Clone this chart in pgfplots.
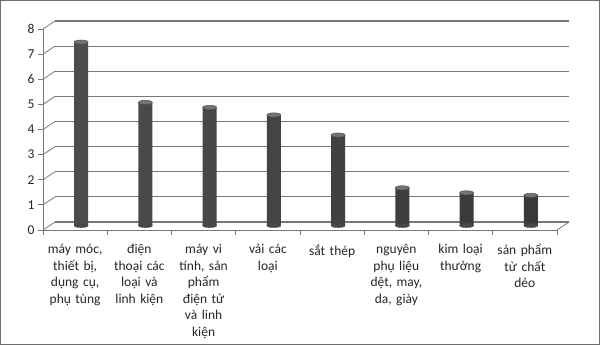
\documentclass[border=0pt]{standalone}
\usepackage{pgfplots}
\pgfplotsset{compat=1.18}
\usepackage{fontspec}
\setmainfont{Carlito}
\definecolor{gridc}{RGB}{120,120,120}
\definecolor{framec}{RGB}{110,110,110}
\begin{document}
\begin{tikzpicture}
\useasboundingbox (0,0) rectangle (600pt,345pt);
\fill[white] (0,0) rectangle (600pt,345pt);
\draw[framec, line width=1.4pt] (0.7pt,0.7pt) rectangle (599.3pt,344.3pt);
% front axis with back-wall grid
\begin{axis}[
  at={(43pt,115pt)}, anchor=south west,
  width=514pt, height=201pt, scale only axis,
  xmin=-0.5, xmax=7.5, ymin=0, ymax=8,
  axis x line*=bottom, axis y line*=left,
  axis line style={gridc, line width=0.8pt, -},
  clip=false,
  ytick={0,1,...,8},
  xtick={0,1,...,7},
  major x tick style={draw=none},
  minor xtick={-0.5,0.5,...,7.5},
  minor tick length=5pt,
  major tick length=5pt,
  tick align=outside,
  tick style={gridc, line width=0.8pt},
  /pgf/number format/assume math mode=true,
  tick label style={font=\fontsize{13.5}{16.5}\selectfont, text=black!85},
  xticklabel style={align=center, text width=64pt, yshift=-6pt},
  xticklabels={{máy móc,\\ thiết bị,\\ dụng cụ,\\ phụ tùng},
    {điện\\ thoại các\\ loại và\\ linh kiện},
    {máy vi\\ tính, sản\\ phẩm\\ điện tử\\ và linh\\ kiện},
    {vải các\\ loại},
    {sắt thép},
    {nguyên\\ phụ liệu\\ dệt, may,\\ da, giày},
    {kim loại\\ thường},
    {sản phẩm\\ từ chất\\ dẻo}},
]
\pgfplotsinvokeforeach{0,1,...,8}{
  \draw[gridc, line width=1.2pt] (axis cs:-0.5,#1) ++(12pt,8pt) -- ([xshift=12pt,yshift=8pt]axis cs:7.5,#1);
  \draw[gridc, line width=0.8pt] (axis cs:-0.5,#1) -- ++(12pt,8pt);
}
\draw[gridc, line width=0.8pt] (axis cs:7.5,0) -- ++(12pt,8pt);
\end{axis}
% bars at middle depth
\begin{axis}[
  at={(49pt,119.5pt)}, anchor=south west,
  width=514pt, height=201pt, scale only axis,
  xmin=-0.5, xmax=7.5, ymin=0, ymax=8,
  hide axis, clip=false,
]
\addplot[only marks, mark=*, mark size=7pt,
  mark options={yscale=0.3, fill=black!72, draw=black!72}]
  coordinates {(0,0) (1,0) (2,0) (3,0) (4,0) (5,0) (6,0) (7,0)};
\addplot[ybar, bar width=14pt, draw=none,
  left color=black!70, middle color=black!45, right color=black!78]
  coordinates {(0,7.3) (1,4.9) (2,4.7) (3,4.4) (4,3.6) (5,1.5) (6,1.3) (7,1.2)};
\addplot[only marks, mark=*, mark size=7pt,
  mark options={yscale=0.3, fill=black!55, draw=black!68, line width=0.5pt}]
  coordinates {(0,7.3) (1,4.9) (2,4.7) (3,4.4) (4,3.6) (5,1.5) (6,1.3) (7,1.2)};
\end{axis}
\end{tikzpicture}
\end{document}
